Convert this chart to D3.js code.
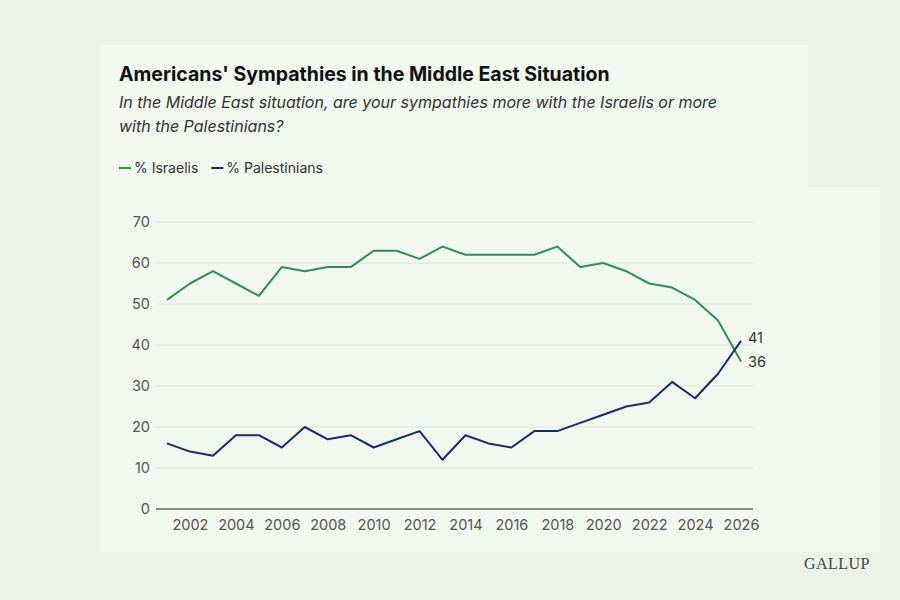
<!DOCTYPE html>
<html><head><meta charset="utf-8">
<script src="https://cdn.jsdelivr.net/npm/d3@7"></script>
<style>body{margin:0;background:#ecf2ea;font-family:Inter,"Noto Sans",sans-serif}</style>
</head><body>
<script>
var years = d3.range(2001, 2027);
var israelis = [51,55,58,55,52,59,58,59,59,63,63,61,64,62,62,62,62,64,59,60,58,55,54,51,46,36];
var palestinians = [16,14,13,18,18,15,20,17,18,15,17,19,12,18,16,15,19,19,21,23,25,26,31,27,33,41];
var yTicks = [0,10,20,30,40,50,60,70];
var xTicks = d3.range(2002, 2027, 2);
var series = [
  {name:'% Israelis', values:israelis, color:'#2f8f55'},
  {name:'% Palestinians', values:palestinians, color:'#1c2a6b'}
];

var svg = d3.select('body').append('svg').attr('width',900).attr('height',600);
svg.append('rect').attr('width',900).attr('height',600).attr('fill','#ecf2ea');
svg.append('rect').attr('x',100).attr('y',45).attr('width',708).attr('height',142).attr('fill','#f2f7f0');
svg.append('rect').attr('x',100).attr('y',187).attr('width',780).attr('height',365).attr('fill','#f2f7f0');

svg.append('text').attr('x',119).attr('y',81).text("Americans' Sympathies in the Middle East Situation")
  .attr('font-size',19.5).attr('font-weight',700).attr('fill','#111');
svg.append('text').attr('x',119).attr('y',108).text('In the Middle East situation, are your sympathies more with the Israelis or more')
  .attr('font-size',16).attr('font-style','italic').attr('fill','#333');
svg.append('text').attr('x',119).attr('y',132).text('with the Palestinians?')
  .attr('font-size',16).attr('font-style','italic').attr('fill','#333');

var lx = 119;
series.forEach(function(s){
  svg.append('line').attr('x1',lx).attr('x2',lx+12).attr('y1',168).attr('y2',168).attr('stroke',s.color).attr('stroke-width',2);
  var t = svg.append('text').attr('x',lx+15).attr('y',173).text(s.name).attr('font-size',14).attr('fill','#333');
  lx += t.node().getComputedTextLength() + 28;
});

var x = d3.scaleLinear().domain([2001,2026]).range([167,741]);
var y = d3.scaleLinear().domain([0,70]).range([509,222]);

var g = svg.append('g');
g.selectAll('.grid').data(yTicks.slice(1)).enter().append('line')
  .attr('x1',156).attr('x2',753).attr('y1',function(d){return y(d);}).attr('y2',function(d){return y(d);})
  .attr('stroke','#dde6db').attr('stroke-width',1);
g.append('line').attr('x1',156).attr('x2',753).attr('y1',y(0)).attr('y2',y(0)).attr('stroke','#666').attr('stroke-width',1.5);

var yAxis = svg.append('g')
  .call(d3.axisLeft(y).tickValues(yTicks).tickSize(0).tickPadding(0));
yAxis.select('.domain').remove();
yAxis.selectAll('text').attr('x',150).attr('font-size',14.5).attr('fill','#555').attr('font-family','Inter,"Noto Sans",sans-serif');

var xAxis = svg.append('g').attr('transform','translate(0,'+(y(0)+8)+')')
  .call(d3.axisBottom(x).tickValues(xTicks).tickFormat(d3.format('d')).tickSize(0));
xAxis.select('.domain').remove();
xAxis.selectAll('text').attr('font-size',14.5).attr('fill','#555').attr('font-family','Inter,"Noto Sans",sans-serif');

var line = d3.line().x(function(d,i){return x(years[i]);}).y(function(d){return y(d);});
series.forEach(function(s){
  svg.append('path').datum(s.values).attr('d',line).attr('fill','none')
    .attr('stroke',s.color).attr('stroke-width',2).attr('stroke-linejoin','round');
});

var last = years.length-1;
svg.append('text').attr('x',x(years[last])+7).attr('y',y(palestinians[last])+2).text(palestinians[last])
  .attr('font-size',14.5).attr('fill','#333');
svg.append('text').attr('x',x(years[last])+7).attr('y',y(israelis[last])+6).text(israelis[last])
  .attr('font-size',14.5).attr('fill','#333');

svg.append('text').attr('x',870).attr('y',569).attr('text-anchor','end').text('GALLUP')
  .attr('font-family','"Liberation Serif","DejaVu Serif",serif').attr('font-size',16).attr('fill','#444').attr('letter-spacing',0.5);
</script>
</body></html>
